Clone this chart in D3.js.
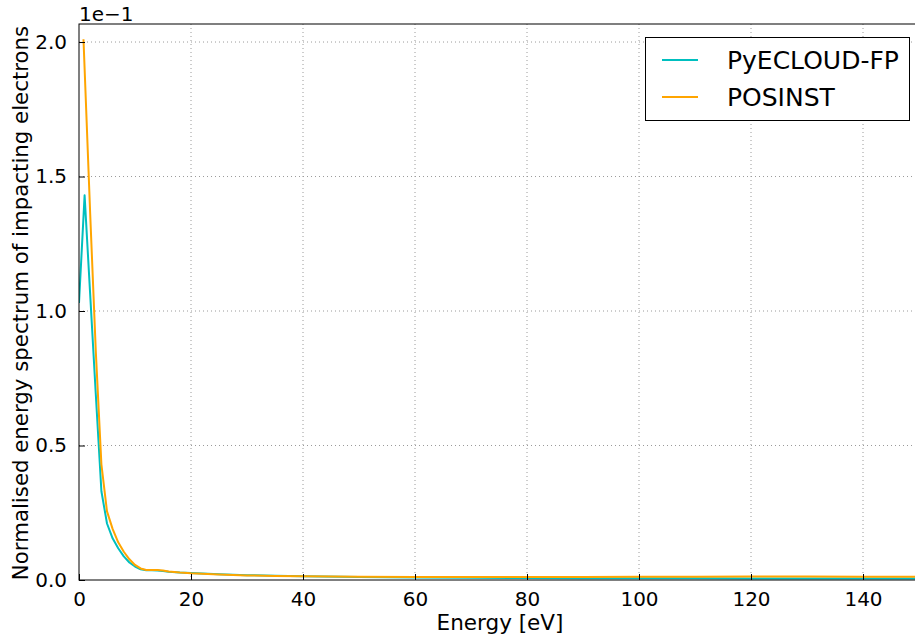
<!DOCTYPE html>
<html>
<head>
<meta charset="utf-8">
<script src="https://cdn.jsdelivr.net/npm/d3@7"></script>
<style>
  html, body { margin: 0; padding: 0; background: #fff; overflow: hidden; }
  svg text { font-family: "DejaVu Sans", sans-serif; fill: #000; }
</style>
</head>
<body>
<svg id="chart" width="915" height="641"></svg>
<script>
// Energy spectra of impacting electrons (values in units of 1e-1)
const pyEnergy = [0, 1, 2, 3, 4, 5, 6, 7, 8, 9, 10, 11, 12, 13, 14, 15, 16, 18, 20, 25, 30, 35, 40, 50, 60, 70, 80, 90, 100, 110, 120, 130, 140, 150];
const pyValues = [1.03, 1.43, 1.06, 0.69, 0.33, 0.21, 0.155, 0.118, 0.088, 0.065, 0.05, 0.04, 0.036, 0.036, 0.035, 0.033, 0.031, 0.028, 0.026, 0.021, 0.018, 0.016, 0.014, 0.011, 0.009, 0.008, 0.007, 0.0068, 0.0065, 0.0062, 0.006, 0.0058, 0.0056, 0.0055];

const posEnergy = [0.8, 2, 3, 4, 5, 6, 7, 8, 9, 10, 11, 12, 13, 14, 15, 16, 18, 20, 25, 30, 35, 40, 50, 60, 70, 80, 90, 100, 110, 120, 130, 140, 150];
const posValues = [2.01, 1.36, 0.85, 0.43, 0.255, 0.19, 0.14, 0.105, 0.077, 0.056, 0.043, 0.037, 0.037, 0.037, 0.035, 0.032, 0.028, 0.025, 0.02, 0.017, 0.015, 0.014, 0.012, 0.011, 0.011, 0.011, 0.0115, 0.012, 0.0125, 0.013, 0.013, 0.0125, 0.012];

const seriesNames = ["PyECLOUD-FP", "POSINST"];
const seriesColors = ["#00bfbf", "#ffa500"];

const xTicks = [0, 20, 40, 60, 80, 100, 120, 140];
const yTicks = [0.0, 0.5, 1.0, 1.5, 2.0];

const svg = d3.select("#chart");
const plotLeft = 79, plotTop = 24, plotBottom = 580, plotRight = 919;

const x = d3.scaleLinear().domain([0, 150]).range([plotLeft, plotRight]);
const y = d3.scaleLinear().domain([0, 2.067]).range([plotBottom, plotTop]);

// dotted grid
const grid = svg.append("g");
grid.selectAll("line.gx").data(xTicks.filter(d => d > 0)).enter().append("line")
  .attr("x1", d => x(d)).attr("x2", d => x(d))
  .attr("y1", plotTop).attr("y2", plotBottom)
  .attr("stroke", "#9a9a9a").attr("stroke-width", 1).attr("stroke-dasharray", "1,3");
grid.selectAll("line.gy").data(yTicks.filter(d => d > 0)).enter().append("line")
  .attr("x1", plotLeft).attr("x2", plotRight)
  .attr("y1", d => y(d)).attr("y2", d => y(d))
  .attr("stroke", "#9a9a9a").attr("stroke-width", 1).attr("stroke-dasharray", "1,3");

// lines
svg.append("clipPath").attr("id", "plotclip").append("rect")
  .attr("x", plotLeft).attr("y", plotTop).attr("width", plotRight - plotLeft).attr("height", plotBottom - plotTop);

const line = d3.line().x(d => x(d[0])).y(d => y(d[1]));
const series = [
  d3.zip(pyEnergy, pyValues),
  d3.zip(posEnergy, posValues)
];
const plot = svg.append("g").attr("clip-path", "url(#plotclip)");
series.forEach((s, i) => {
  plot.append("path").datum(s)
    .attr("d", line)
    .attr("fill", "none")
    .attr("stroke", seriesColors[i])
    .attr("stroke-width", 2)
    .attr("stroke-linejoin", "round");
});

// axes with inward ticks
const xAxis = d3.axisBottom(x).tickValues(xTicks).tickSizeInner(-6).tickSizeOuter(0)
  .tickPadding(12).tickFormat(d3.format("d"));
const gx = svg.append("g").attr("transform", `translate(0,${plotBottom})`).call(xAxis);
gx.select(".domain").remove();
gx.selectAll("text").attr("font-size", 20).attr("font-family", "DejaVu Sans");

const yAxis = d3.axisLeft(y).tickValues(yTicks).tickSizeInner(-6).tickSizeOuter(0)
  .tickPadding(12).tickFormat(d3.format(".1f"));
const gy = svg.append("g").attr("transform", `translate(${plotLeft},0)`).call(yAxis);
gy.select(".domain").remove();
gy.selectAll("text").attr("font-size", 20).attr("font-family", "DejaVu Sans");
svg.selectAll(".tick line").attr("stroke", "#000");

// spines
svg.append("rect").attr("x", plotLeft).attr("y", plotTop)
  .attr("width", plotRight - plotLeft + 5).attr("height", plotBottom - plotTop)
  .attr("fill", "none").attr("stroke", "#000").attr("stroke-width", 1);

// offset label
svg.append("text").attr("x", plotLeft).attr("y", 21).attr("font-size", 20).text("1e\u22121");

// axis labels
svg.append("text").attr("x", 500).attr("y", 630)
  .attr("text-anchor", "middle").attr("font-size", 21.5).text("Energy [eV]");
svg.append("text")
  .attr("transform", `translate(28,303) rotate(-90)`)
  .attr("text-anchor", "middle").attr("font-size", 21.3)
  .text("Normalised energy spectrum of impacting electrons");

// legend
const lg = svg.append("g");
lg.append("rect").attr("x", 645.5).attr("y", 37.5).attr("width", 264).attr("height", 83)
  .attr("fill", "#fff").attr("stroke", "#000").attr("stroke-width", 1);
seriesNames.forEach((name, i) => {
  const yy = 60 + i * 37;
  lg.append("line").attr("x1", 662).attr("x2", 698).attr("y1", yy).attr("y2", yy)
    .attr("stroke", seriesColors[i]).attr("stroke-width", 2);
  lg.append("text").attr("x", 727).attr("y", yy + 9).attr("font-size", 25).text(name);
});
</script>
</body>
</html>
